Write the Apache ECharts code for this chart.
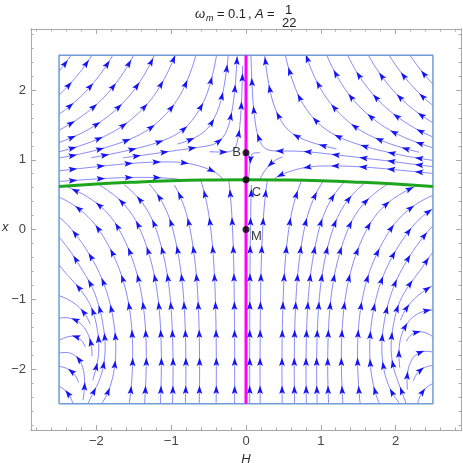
<!DOCTYPE html>
<html>
<head>
<meta charset="utf-8">
<script src="https://cdn.jsdelivr.net/npm/echarts@6/dist/echarts.min.js"></script>
<style>
  html, body { margin: 0; padding: 0; background: #fff; }
  #chart { width: 463px; height: 463px; }
</style>
</head>
<body>
<div id="chart"></div>
<script>
// ticks
const majorTicks = [-2, -1, 0, 1, 2]
const minorTicks = [-2.8, -2.6, -2.4, -2.2, -1.8, -1.6, -1.4, -1.2, -0.8, -0.6, -0.4, -0.2,
  0.2, 0.4, 0.6, 0.8, 1.2, 1.4, 1.6, 1.8, 2.2, 2.4, 2.6, 2.8]

// box of the stream plot
const boxH = [-2.5, 2.5, 2.5, -2.5, -2.5]
const boxX = [-2.5, -2.5, 2.5, 2.5, -2.5]

// magenta line H = 0
const magentaH = [0, 0]
const magentaX = [-2.5, 2.5]

// green curve
const greenH = [-2.5, -2, -1.5, -1, -0.5, 0, 0.5, 1, 1.5, 2, 2.5]
const greenX = [0.617, 0.652, 0.679, 0.699, 0.710, 0.714, 0.710, 0.699, 0.679, 0.652, 0.617]

// marked points
const pointNames = ["B", "C", "M"]
const pointH = [0, 0, 0]
const pointX = [1.1, 0.714, 0]

// flow direction (degrees, 0 = towards +H, 90 = towards +x)
// columns are H = -2.5 .. 0, the right half is the mirror image
const fieldCols = [-2.5, -2, -1.5, -1, -0.5, 0]
// above the green curve
const upperRows = [0.5, 1.0, 1.2, 1.5, 2.0, 2.5]
const upperDeg = [
  [2, 0, -3, -8, -25, -90],
  [8, 8, 5, 0, -20, -90],
  [18, 18, 16, 14, 10, 90],
  [30, 33, 37, 42, 55, 90],
  [45, 48, 53, 60, 72, 90],
  [55, 58, 63, 68, 78, 90]
]
// below the green curve
const lowerRows = [-2.5, -2, -1.5, -1, -0.5, 0, 0.5, 1.0]
const lowerDeg = [
  [135, 50, 85, 88, 89, 90],
  [170, 75, 88, 90, 90, 90],
  [215, 98, 93, 92, 91, 90],
  [165, 108, 100, 95, 92, 90],
  [125, 118, 108, 100, 94, 90],
  [132, 125, 115, 105, 97, 90],
  [158, 148, 135, 118, 102, 90],
  [165, 158, 145, 130, 110, 90]
]

const lineColor = "rgba(95,95,245,0.85)"
const arrowColor = "#1414f5"

// ---- streamline tracing through the read-off field ----
const SX = 430 / 5.75
const SY = 400 / 5.75
const DSEP = 14
const DTEST = 6
const STEP = 1.5
const MAXLEN = 520
const MAXTURN = 3.4
const ARROW_GAP = 28

const cols = fieldCols.concat(fieldCols.slice(0, -1).reverse().map(h => -h))
function fullRow(row) {
  return row.concat(row.slice(0, -1).reverse().map(a => 180 - a))
}
const upperFull = upperDeg.map(fullRow)
const lowerFull = lowerDeg.map(fullRow)

function lerpTable(xs, ys, v) {
  if (v <= xs[0]) return ys[0]
  for (let i = 0; i < xs.length - 1; i++) {
    if (v <= xs[i + 1]) {
      const t = (v - xs[i]) / (xs[i + 1] - xs[i])
      return ys[i] + t * (ys[i + 1] - ys[i])
    }
  }
  return ys[ys.length - 1]
}
const greenAt = h => lerpTable(greenH, greenX, h)
const isUpper = (h, x) => x > greenAt(h)

function findIdx(arr, v) {
  if (v <= arr[0]) return [0, 0]
  for (let i = 0; i < arr.length - 1; i++) {
    if (v <= arr[i + 1]) return [i, (v - arr[i]) / (arr[i + 1] - arr[i])]
  }
  return [arr.length - 2, 1]
}

function dirAt(P, Q) {
  const h = P / SX, x = Q / SY
  const up = isUpper(h, x)
  const rows = up ? upperRows : lowerRows
  const tab = up ? upperFull : lowerFull
  const [i, ti] = findIdx(rows, x)
  const [j, tj] = findIdx(cols, h)
  let u = 0, v = 0
  const corners = [[i, j, (1 - ti) * (1 - tj)], [i + 1, j, ti * (1 - tj)],
    [i, j + 1, (1 - ti) * tj], [i + 1, j + 1, ti * tj]]
  corners.forEach(([r, c, w]) => {
    const a = tab[r][c] * Math.PI / 180
    u += w * Math.cos(a)
    v += w * Math.sin(a)
  })
  const n = Math.hypot(u, v)
  if (n < 0.06) return null
  return [u / n, v / n]
}

const cellMap = new Map()
const key = (a, b) => a * 10007 + b
function addPoint(P, Q, id) {
  const k = key(Math.floor(P / DSEP), Math.floor(Q / DSEP))
  if (!cellMap.has(k)) cellMap.set(k, [])
  cellMap.get(k).push([P, Q, id])
}
function tooClose(P, Q, d, id) {
  const ci = Math.floor(P / DSEP), cj = Math.floor(Q / DSEP)
  for (let a = ci - 1; a <= ci + 1; a++) {
    for (let b = cj - 1; b <= cj + 1; b++) {
      const list = cellMap.get(key(a, b))
      if (!list) continue
      for (const p of list) {
        if (p[2] !== id && Math.hypot(p[0] - P, p[1] - Q) < d) return true
      }
    }
  }
  return false
}

const LIM_P = 2.5 * SX, LIM_Q = 2.5 * SY
function trace(P0, Q0, sgn, id) {
  const pts = []
  let P = P0, Q = Q0, len = 0, turn = 0
  const region = isUpper(P0 / SX, Q0 / SY)
  let prev = null
  while (len < MAXLEN) {
    const v1 = dirAt(P, Q)
    if (!v1) break
    const v2 = dirAt(P + v1[0] * STEP * 0.5 * sgn, Q + v1[1] * STEP * 0.5 * sgn)
    if (!v2) break
    if (prev) {
      const dot = prev[0] * v2[0] + prev[1] * v2[1]
      if (dot < 0.3) break
      turn += Math.acos(Math.min(1, dot))
      if (turn > MAXTURN) break
    }
    const Pn = P + v2[0] * STEP * sgn, Qn = Q + v2[1] * STEP * sgn
    if (Math.abs(Pn) > LIM_P || Math.abs(Qn) > LIM_Q) {
      // clip to the box edge
      const tP = Math.abs(Pn) > LIM_P ? (Math.sign(Pn) * LIM_P - P) / (Pn - P) : 1
      const tQ = Math.abs(Qn) > LIM_Q ? (Math.sign(Qn) * LIM_Q - Q) / (Qn - Q) : 1
      const t = Math.min(tP, tQ)
      pts.push([P + t * (Pn - P), Q + t * (Qn - Q)])
      break
    }
    if (isUpper(Pn / SX, Qn / SY) !== region) break
    if (tooClose(Pn, Qn, DTEST, id)) break
    P = Pn; Q = Qn
    pts.push([P, Q])
    prev = v2
    len += STEP
  }
  return pts
}

const streams = []
const seedGap = DSEP * 0.5
for (let Q = LIM_Q - 3; Q > -LIM_Q; Q -= seedGap) {
  for (let P = -LIM_P + 3; P < LIM_P; P += seedGap) {
    if (Math.abs(Q / SY - greenAt(P / SX)) < 0.02) continue
    if (tooClose(P, Q, DSEP, -1)) continue
    const id = streams.length
    const back = trace(P, Q, -1, id)
    const fwd = trace(P, Q, 1, id)
    const line = back.reverse().concat([[P, Q]], fwd)
    let L = 0
    for (let k = 1; k < line.length; k++) {
      L += Math.hypot(line[k][0] - line[k - 1][0], line[k][1] - line[k - 1][1])
    }
    if (L < 12) continue
    line.forEach(p => addPoint(p[0], p[1], id))
    streams.push(line)
  }
}

const streamData = []
const arrowData = []
streams.forEach(line => {
  streamData.push({ coords: line.map(p => [p[0] / SX, p[1] / SY]) })
  let L = 0
  const acc = [0]
  for (let k = 1; k < line.length; k++) {
    L += Math.hypot(line[k][0] - line[k - 1][0], line[k][1] - line[k - 1][1])
    acc.push(L)
  }
  const first = Math.min(ARROW_GAP * 0.5, L * 0.5)
  for (let s = first; s < L - 3; s += ARROW_GAP) {
    let k = 1
    while (k < acc.length - 1 && acc[k] < s) k++
    const a = line[k - 1], b = line[k]
    const t = (s - acc[k - 1]) / Math.max(1e-9, acc[k] - acc[k - 1])
    const P = a[0] + t * (b[0] - a[0]), Q = a[1] + t * (b[1] - a[1])
    arrowData.push([P / SX, Q / SY, (b[0] - a[0]) / SX, (b[1] - a[1]) / SY])
  }
})

// ---- chart ----
const fmt = v => (v < 0 ? "\u2212" + Math.abs(v) : String(v))
const frameColor = "#a8a8a8"
const labelFont = "Liberation Sans"

function frameAxis(position, ticks, len, withLabels, extra) {
  return Object.assign({
    type: "value",
    min: -2.875,
    max: 2.875,
    position: position,
    axisLine: { show: true, onZero: false, lineStyle: { color: frameColor, width: 1 } },
    axisTick: { show: true, inside: true, length: len, customValues: ticks, lineStyle: { color: frameColor } },
    axisLabel: withLabels
      ? { show: true, customValues: majorTicks, formatter: fmt, color: "#444", fontSize: 13, fontFamily: labelFont, margin: 5 }
      : { show: false },
    splitLine: { show: false }
  }, extra || {})
}

const txt = (text, left, top, italic, size) => ({
  type: "text", left: left, top: top,
  style: { text: text, font: (italic ? "italic " : "") + (size || 13) + "px Liberation Sans", fill: "#222" }
})

const chart = echarts.init(document.getElementById("chart"))
chart.setOption({
  animation: false,
  grid: { left: 31, right: 2, top: 29, bottom: 33, containLabel: false, outerBoundsMode: "none" },
  xAxis: [
    frameAxis("bottom", majorTicks, 5, true, {
      name: "H", nameLocation: "middle", nameGap: 22,
      nameTextStyle: { fontStyle: "italic", fontSize: 13, color: "#333", fontFamily: labelFont }
    }),
    frameAxis("bottom", minorTicks, 2.5, false),
    frameAxis("top", majorTicks, 5, false),
    frameAxis("top", minorTicks, 2.5, false)
  ],
  yAxis: [
    frameAxis("left", majorTicks, 5, true),
    frameAxis("left", minorTicks, 2.5, false),
    frameAxis("right", majorTicks, 5, false),
    frameAxis("right", minorTicks, 2.5, false)
  ],
  graphic: [
    txt("\u03c9", 195, 8, true),
    txt("m", 206, 14, true, 9),
    txt("=", 217, 8),
    txt("0.1", 228, 8),
    txt(",", 248, 8),
    txt("A", 255, 8, true),
    txt("=", 267, 8),
    txt("1", 285, 4),
    txt("22", 282, 17),
    { type: "text", left: 2, top: 221, style: { text: "x", font: "italic 13px Liberation Sans", fill: "#333" } }
  ],
  series: [
    {
      type: "lines",
      coordinateSystem: "cartesian2d",
      polyline: true,
      silent: true,
      data: streamData,
      lineStyle: { color: lineColor, width: 0.9, opacity: 1 },
      z: 2
    },
    {
      type: "custom",
      coordinateSystem: "cartesian2d",
      silent: true,
      data: arrowData,
      encode: { x: 0, y: 1 },
      renderItem: (params, api) => {
        const p = api.coord([api.value(0), api.value(1)])
        const q = api.coord([api.value(0) + api.value(2) * 50, api.value(1) + api.value(3) * 50])
        let dx = q[0] - p[0], dy = q[1] - p[1]
        const n = Math.hypot(dx, dy) || 1
        dx /= n; dy /= n
        const L = 8.5, W = 2.9
        const tip = [p[0] + dx * L * 0.5, p[1] + dy * L * 0.5]
        const bx = p[0] - dx * L * 0.5, by = p[1] - dy * L * 0.5
        const notch = [p[0] - dx * L * 0.3, p[1] - dy * L * 0.3]
        return {
          type: "polygon",
          shape: { points: [tip, [bx - dy * W, by + dx * W], notch, [bx + dy * W, by - dx * W]] },
          style: { fill: arrowColor }
        }
      },
      z: 3
    },
    {
      type: "line",
      data: boxH.map((h, i) => [h, boxX[i]]),
      showSymbol: false,
      silent: true,
      lineStyle: { color: "#6f9bd6", width: 1.5 },
      z: 4
    },
    {
      type: "line",
      data: magentaH.map((h, i) => [h, magentaX[i]]),
      showSymbol: false,
      silent: true,
      lineStyle: { color: "#ff00ff", width: 3 },
      z: 5
    },
    {
      type: "line",
      data: greenH.map((h, i) => [h, greenX[i]]),
      smooth: true,
      showSymbol: false,
      silent: true,
      lineStyle: { color: "#1ea51e", width: 3 },
      z: 6
    },
    {
      type: "scatter",
      symbolSize: 7,
      silent: true,
      itemStyle: { color: "#000" },
      label: { show: true, formatter: "{b}", color: "#000", fontSize: 13, fontFamily: labelFont, align: "center", verticalAlign: "middle" },
      data: pointNames.map((name, i) => ({
        name: name,
        value: [pointH[i], pointX[i]],
        label: { position: [[-6, 3.5], [14, 16], [14, 10]][i] }
      })),
      z: 7
    }
  ]
})
</script>
</body>
</html>
